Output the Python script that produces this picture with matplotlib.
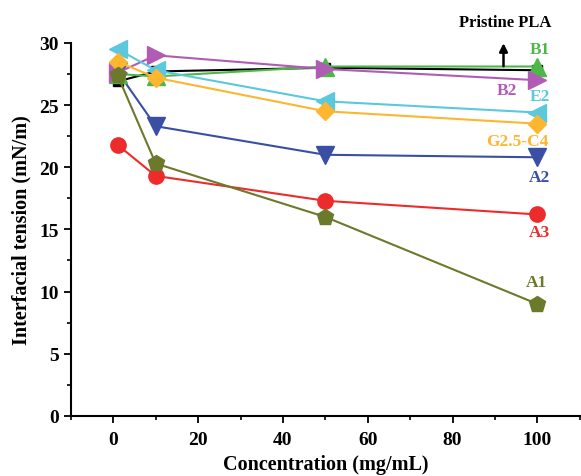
import matplotlib
matplotlib.use('Agg')
import matplotlib.pyplot as plt
from matplotlib.ticker import MultipleLocator

plt.rcParams['font.family'] = ['Liberation Serif', 'DejaVu Serif']
plt.rcParams['font.weight'] = 'bold'

# Concentration (mg/mL)
conc = [1, 10, 50, 100]

# Interfacial tension (mN/m) per sample
pristine = [26.9, 27.7, 28.0, 27.8]
a3 = [21.8, 19.3, 17.3, 16.2]
a2 = [27.7, 23.3, 21.0, 20.8]
b1 = [27.5, 27.3, 28.1, 28.1]
b2 = [27.6, 29.0, 27.9, 27.0]
e2 = [29.5, 27.8, 25.3, 24.4]
g25c4 = [28.5, 27.2, 24.5, 23.5]
a1 = [27.4, 20.3, 16.0, 9.0]

series = [
    ('Pristine PLA', pristine, 'black', 's', 7.5),
    ('A3', a3, '#ee2b2b', 'o', 11),
    ('A2', a2, '#3a4fa3', 'v', 13),
    ('B1', b1, '#4db848', '^', 13),
    ('B2', b2, '#b05cb5', '>', 13),
    ('E2', e2, '#5bc8dc', '<', 13),
    ('G2.5-C4', g25c4, '#fdb62f', 'D', 9),
    ('A1', a1, '#6b7a2a', 'p', 12),
]

# label positions (x, y) next to the last point
label_pos = {
    'A3': (100.5, 14.8), 'A2': (100.5, 19.2), 'B1': (100.5, 29.5),
    'B2': (92.7, 26.2), 'E2': (100.5, 25.7), 'G2.5-C4': (95.3, 22.1),
    'A1': (99.8, 10.8),
}

fig = plt.figure(figsize=(5.81, 4.77), dpi=100)
ax = fig.add_axes([0.122, 0.126, 0.876, 0.782])

for name, vals, color, marker, ms in series:
    ax.plot(conc, vals, color=color, marker=marker, markersize=ms, lw=1.5,
            clip_on=False)
    if name in label_pos:
        lx, ly = label_pos[name]
        ax.text(lx, ly, name, color=color, fontsize=12.5, fontweight='bold',
                ha='center', va='center')

# Pristine PLA arrow and label
ax.annotate('', xy=(92, 30.2), xytext=(92, 27.9), annotation_clip=False,
            arrowprops=dict(arrowstyle='-|>', color='black', lw=1.8,
                            mutation_scale=12))
ax.text(92.3, 31.7, 'Pristine PLA', fontsize=12, fontweight='bold',
        ha='center', va='center')

ax.set_xlim(-10, 110)
ax.set_ylim(0, 30)
ax.xaxis.set_major_locator(MultipleLocator(20))
ax.xaxis.set_minor_locator(MultipleLocator(10))
ax.yaxis.set_major_locator(MultipleLocator(5))
ax.yaxis.set_minor_locator(MultipleLocator(2.5))
ax.tick_params(which='major', length=5, width=1.3, labelsize=14)
ax.tick_params(axis='x', which='major', pad=6)
ax.tick_params(which='minor', length=3, width=1.2)
for lab in ax.get_xticklabels() + ax.get_yticklabels():
    lab.set_fontweight('bold')

ax.spines['top'].set_visible(False)
ax.spines['right'].set_visible(False)
ax.spines['left'].set_linewidth(1.5)
ax.spines['bottom'].set_linewidth(1.5)

ax.set_xlabel('Concentration (mg/mL)', fontsize=14.5, fontweight='bold', labelpad=4)
ax.set_ylabel('Interfacial tension (mN/m)', fontsize=14.5, fontweight='bold', labelpad=6)

fig.savefig('out.png', dpi=100)
